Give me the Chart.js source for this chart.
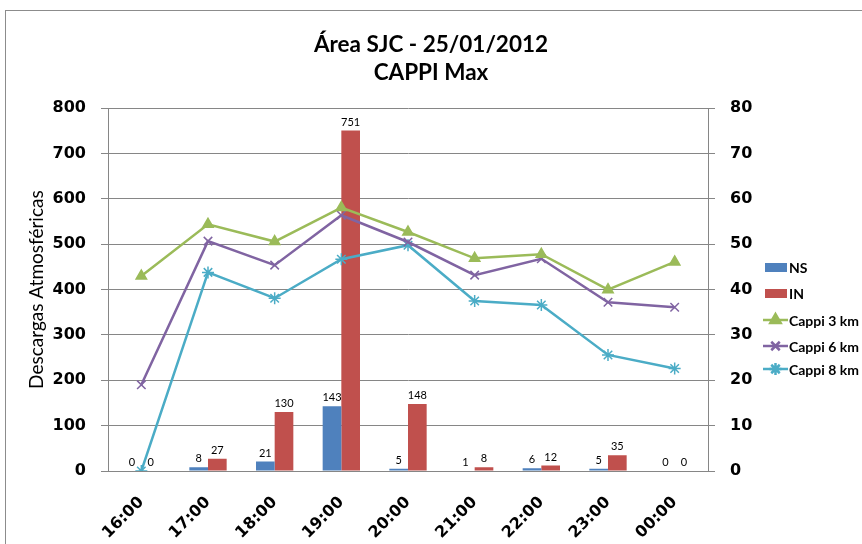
<!DOCTYPE html>
<html>
<head>
<meta charset="utf-8">
<script src="https://cdn.jsdelivr.net/npm/chart.js@4.4.1/dist/chart.umd.min.js"></script>
<style>
    body { margin: 0; background: #fff; }
    #wrap { width: 862px; height: 544px; position: relative; }
</style>
</head>
<body>
<div id="wrap"><canvas id="chart" width="862" height="544"></canvas></div>
<script>
// hours on the x axis
const hours = ['16:00', '17:00', '18:00', '19:00', '20:00', '21:00', '22:00', '23:00', '00:00'];

// lightning counts (left axis)
const nsValues = [0, 8, 21, 143, 5, 1, 6, 5, 0];
const inValues = [0, 27, 130, 751, 148, 8, 12, 35, 0];

// CAPPI max reflectivity (right axis)
const cappi3 = [43, 54.4, 50.6, 58.1, 52.7, 46.9, 47.8, 40.0, 46.1];
const cappi6 = [19, 50.7, 45.4, 56.4, 50.5, 43.2, 46.8, 37.2, 36.1];
const cappi8 = [0, 43.8, 38.1, 46.7, 49.8, 37.5, 36.6, 25.6, 22.6];

const gridGray = '#868686';

// frame around the chart
const framePlugin = {
    id: 'frame',
    beforeDraw(chart) {
        const ctx = chart.ctx;
        ctx.save();
        ctx.fillStyle = '#fff';
        ctx.fillRect(0, 0, chart.width, chart.height);
        ctx.strokeStyle = '#8c8c8c';
        ctx.lineWidth = 1;
        ctx.strokeRect(5.5, 10.5, 900, 600);
        ctx.restore();
    }
};

// value labels above the bars
const barLabels = {
    id: 'barLabels',
    afterDatasetsDraw(chart) {
        const ctx = chart.ctx;
        ctx.save();
        ctx.font = '11px Lato';
        ctx.fillStyle = '#000';
        ctx.textAlign = 'center';
        ctx.textBaseline = 'bottom';
        chart.data.datasets.forEach((ds, i) => {
            if (ds.type !== 'bar') return;
            chart.getDatasetMeta(i).data.forEach((bar, j) => {
                ctx.fillText(ds.data[j], bar.x, bar.y - 3);
            });
        });
        ctx.restore();
    }
};

// legend on the right side, drawn by hand
const sideLegend = {
    id: 'sideLegend',
    afterDraw(chart) {
        const ctx = chart.ctx;
        const rows = [267, 293, 320, 346, 369];
        ctx.save();
        ctx.font = 'bold 14px Lato';
        ctx.textBaseline = 'middle';
        ctx.fillStyle = '#000';
        chart.data.datasets.forEach((ds, i) => {
            const y = rows[i];
            if (ds.type === 'bar') {
                ctx.fillStyle = ds.backgroundColor;
                ctx.fillRect(765, y - 4, 22, 9);
            } else {
                ctx.strokeStyle = ds.borderColor;
                ctx.fillStyle = ds.borderColor;
                ctx.lineWidth = 2.5;
                ctx.beginPath();
                ctx.moveTo(763, y);
                ctx.lineTo(788, y);
                ctx.stroke();
                Chart.helpers.drawPoint(ctx, {
                    pointStyle: ds.pointStyle,
                    radius: ds.pointRadius,
                    borderWidth: 1.5,
                    rotation: 0
                }, 775.5, y);
            }
            ctx.fillStyle = '#000';
            ctx.fillText(ds.label, 789, y + 1);
        });
        ctx.restore();
    }
};

function lineSet(label, values, color, style, radius) {
    return {
        type: 'line',
        label: label,
        data: values,
        yAxisID: 'y1',
        borderColor: color,
        backgroundColor: color,
        borderWidth: 2.5,
        pointStyle: style,
        pointRadius: radius,
        pointBorderWidth: 1.5,
        tension: 0,
        order: 1
    };
}

function createChart() {
    const ctx = document.getElementById('chart').getContext('2d');
    new Chart(ctx, {
        data: {
            labels: hours,
            datasets: [
                { type: 'bar', label: 'NS', data: nsValues, backgroundColor: '#4F81BD', yAxisID: 'y', order: 2 },
                { type: 'bar', label: 'IN', data: inValues, backgroundColor: '#C0504D', yAxisID: 'y', order: 2 },
                lineSet('Cappi 3 km', cappi3, '#9BBB59', 'triangle', 6),
                lineSet('Cappi 6 km', cappi6, '#8064A2', 'crossRot', 6),
                lineSet('Cappi 8 km', cappi8, '#4BACC6', 'star', 6)
            ]
        },
        options: {
            responsive: false,
            animation: false,
            layout: { padding: { left: 0, right: 0, top: 0, bottom: 0 } },
            datasets: {
                bar: { categoryPercentage: 0.56, barPercentage: 1 }
            },
            plugins: {
                legend: { display: false },
                tooltip: { enabled: false },
                title: {
                    display: true,
                    text: ['Área SJC - 25/01/2012', 'CAPPI Max'],
                    color: '#000',
                    font: { family: 'Lato', size: 22.5, weight: 'bold', lineHeight: 1.25 },
                    padding: { top: 31, bottom: 21 }
                }
            },
            scales: {
                x: {
                    grid: { display: false },
                    border: { display: true, color: gridGray },
                    ticks: {
                        color: '#000',
                        font: { family: 'DejaVu Sans', size: 16, weight: 'bold' },
                        minRotation: 45,
                        maxRotation: 45,
                        padding: 14
                    },
                    afterFit(scale) { scale.height = 73; }
                },
                y: {
                    position: 'left',
                    min: 0,
                    max: 800,
                    ticks: {
                        stepSize: 100,
                        color: '#000',
                        font: { family: 'DejaVu Sans', size: 16, weight: 'bold' },
                        padding: 15
                    },
                    grid: { color: gridGray, tickLength: 7 },
                    border: { color: gridGray },
                    title: {
                        display: true,
                        text: 'Descargas Atmosféricas',
                        color: '#000',
                        font: { family: 'Lato', size: 19 },
                        padding: { top: 25, bottom: 0 }
                    },
                    afterFit(scale) { scale.width = 108; }
                },
                y1: {
                    position: 'right',
                    min: 0,
                    max: 80,
                    ticks: {
                        stepSize: 10,
                        color: '#000',
                        font: { family: 'DejaVu Sans', size: 16, weight: 'bold' },
                        padding: 15
                    },
                    grid: { drawOnChartArea: false, color: gridGray, tickLength: 7 },
                    border: { color: gridGray },
                    // right axis also leaves room for the hand-drawn legend
                    afterFit(scale) { scale.width = 154; }
                }
            }
        },
        plugins: [framePlugin, barLabels, sideLegend]
    });
}

document.addEventListener('DOMContentLoaded', createChart);
</script>
</body>
</html>
